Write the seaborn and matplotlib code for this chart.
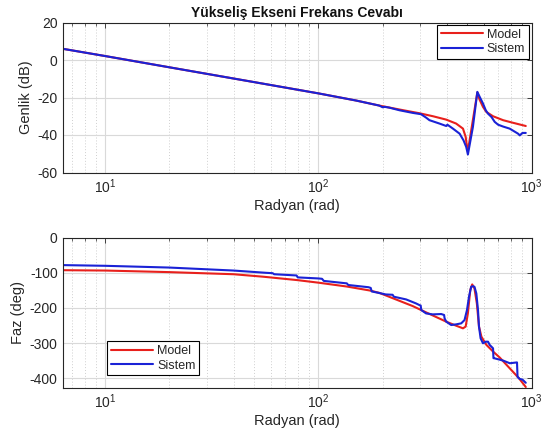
import numpy as np
import pandas as pd
import matplotlib
matplotlib.use("Agg")
import matplotlib.pyplot as plt
import seaborn as sns
from matplotlib.ticker import LogLocator, NullFormatter, LogFormatterMathtext, FixedLocator

# ---------------- data ----------------
title = "Yükseliş Ekseni Frekans Cevabı"
xlabel = "Radyan (rad)"
ylabel_mag = "Genlik (dB)"
ylabel_phase = "Faz (deg)"
series_names = ["Model", "Sistem"]

mag_model_w = [6.3, 10, 20, 50, 100, 150, 193, 240, 298, 345, 398, 443, 477, 491, 497, 503,
               557, 570, 592, 614, 660, 736, 820, 940]
mag_model_db = [6.0, 2.1, -3.9, -11.8, -17.8, -21.6, -24.3, -26.4, -28.4, -30.0, -31.8, -33.9, -36.6, -41.0, -45.5, -48.5,
                -17.3, -21.0, -25.0, -27.7, -30.0, -32.1, -33.5, -35.2]

mag_sys_w = [6.3, 10, 20, 50, 100, 150, 193, 200, 205, 215, 240, 277, 303, 320, 332, 370, 398, 403,
             428, 460, 480, 494, 503, 531, 557, 571, 592, 610, 625, 649, 672, 697, 736, 790, 865, 881, 907, 940]
mag_sys_db = [6.0, 2.1, -3.9, -11.8, -17.8, -21.6, -24.3, -25.2, -25.0, -25.4, -26.8, -28.2, -28.9, -30.7, -32.1, -33.9, -35.2, -34.5,
              -36.6, -39.3, -42.9, -46.4, -50.4, -35.7, -17.0, -19.6, -23.2, -26.8, -28.6, -30.4, -33.0, -34.5, -35.5, -36.6, -39.3, -40.2, -38.9, -38.9]

ph_model_w = [6.3, 10, 20, 40, 55, 79, 100, 136, 175, 193, 231, 277, 332, 398, 443, 477, 491, 503,
              516, 527, 540, 554, 567, 582, 614, 660, 709, 791, 873, 940]
ph_model_deg = [-92.5, -93.5, -98, -104, -111, -120.5, -128, -139, -150.5, -157, -175.7, -194.6, -217, -239, -250.5, -258, -253, -215,
                -149, -133, -144.5, -187, -253, -281.7, -305, -324, -341, -372, -400, -425]

ph_sys_w = [6.3, 10, 20, 40, 57, 61, 62, 79, 80, 100, 104, 106, 136, 138, 172, 176, 178, 195, 207, 223, 226,
            258, 287, 298, 302, 304, 320, 344, 377, 389, 391, 398, 420, 443, 468, 485, 498, 509, 521, 531,
            540, 551, 561, 567, 577, 592, 610, 625, 637, 660, 663, 667, 697, 736, 791, 855, 860, 880, 907, 940]
ph_sys_deg = [-78, -80, -85, -93.5, -100, -101, -104, -107.5, -113, -116, -117, -123, -130, -134.6, -141, -143, -153, -158, -161.5, -162.5, -168,
              -175.7, -187, -191.8, -193, -206, -215.5, -218.3, -217.3, -220, -229.6, -239, -248.6, -246.7, -243.8, -234.4, -206, -168, -139.7, -137.9,
              -139.7, -158.7, -206, -253, -286.4, -300.6, -296, -296, -305.4, -314.8, -343, -343, -346, -349.8, -357.4, -355, -396, -402, -404, -413]

mag_yticks = [-60, -40, -20, 0, 20]
ph_yticks = [-400, -300, -200, -100, 0]

# ---------------- style ----------------
sns.set_theme(style="white")
plt.rcParams["font.family"] = ["Liberation Sans", "DejaVu Sans"]
plt.rcParams["mathtext.fontset"] = "custom"
plt.rcParams["mathtext.rm"] = "Liberation Sans"
plt.rcParams["mathtext.it"] = "Liberation Sans"
plt.rcParams["axes.unicode_minus"] = False

RED = "#e8201c"
BLUE = "#1a22d6"
AXC = "#262626"
GRID = "#d9d9d9"

W, H = 549, 434
fig = plt.figure(figsize=(W / 100, H / 100), dpi=100)
fig.patch.set_facecolor("white")

ax1 = fig.add_axes([62.5 / W, 1 - 172.5 / H, 469 / W, 150 / H])
ax2 = fig.add_axes([62.5 / W, 1 - 387.7 / H, 469 / W, 150 / H])

def df_of(w, v, name):
    return pd.DataFrame({"w": w, "v": v, "s": name})

mag = pd.concat([df_of(mag_model_w, mag_model_db, series_names[0]),
                 df_of(mag_sys_w, mag_sys_db, series_names[1])])
ph = pd.concat([df_of(ph_model_w, ph_model_deg, series_names[0]),
                df_of(ph_sys_w, ph_sys_deg, series_names[1])])

pal = {series_names[0]: RED, series_names[1]: BLUE}

for ax, data, yl, yt, ylim in [(ax1, mag, ylabel_mag, mag_yticks, (-60, 20)),
                               (ax2, ph, ylabel_phase, ph_yticks, (-427, 0))]:
    sns.lineplot(data=data, x="w", y="v", hue="s", palette=pal, estimator=None, sort=False,
                 linewidth=1.5, ax=ax)
    ax.set_xscale("log")
    ax.set_xlim(6.3, 1000)
    ax.set_ylim(*ylim)
    ax.set_yticks(yt)
    ax.xaxis.set_major_locator(LogLocator(base=10, numticks=10))
    ax.xaxis.set_minor_locator(LogLocator(base=10, subs=np.arange(2, 10), numticks=20))
    ax.xaxis.set_major_formatter(LogFormatterMathtext())
    ax.xaxis.set_minor_formatter(NullFormatter())
    ax.grid(True, which="major", axis="both", color=GRID, linewidth=0.8, linestyle="-")
    ax.grid(True, which="minor", axis="x", color="#cfcfcf", linewidth=0.7, linestyle=(0, (1, 2)))
    ax.set_axisbelow(True)
    for sp in ax.spines.values():
        sp.set_color(AXC)
        sp.set_linewidth(0.8)
    ax.tick_params(which="both", direction="in", top=True, right=True, colors=AXC,
                   labelcolor=AXC, labelsize=10)
    ax.tick_params(which="major", length=3.5, width=0.6)
    ax.tick_params(which="minor", length=2, width=0.5)
    ax.set_xlabel(xlabel, fontsize=10.5, color=AXC, labelpad=2)
    ax.set_ylabel(yl, fontsize=10.5, color=AXC, labelpad=3)

ax1.set_title(title, fontsize=10, fontweight="bold", color="#111111", pad=4)

leg_kw = dict(fontsize=9, frameon=True, fancybox=False, framealpha=1, edgecolor="black",
              handlelength=3.4, handletextpad=0.3, borderpad=0.3, labelspacing=0.2, borderaxespad=0.2)
h1, l1 = ax1.get_legend_handles_labels()
lg1 = ax1.legend(h1, l1, loc="upper right", bbox_to_anchor=(1.0, 1.0), **leg_kw)
lg1.get_frame().set_linewidth(0.8)
h2, l2 = ax2.get_legend_handles_labels()
lg2 = ax2.legend(h2, l2, loc="lower left", bbox_to_anchor=(0.09, 0.065), **leg_kw)
lg2.get_frame().set_linewidth(0.8)

fig.savefig("out.png", dpi=100, facecolor="white")
